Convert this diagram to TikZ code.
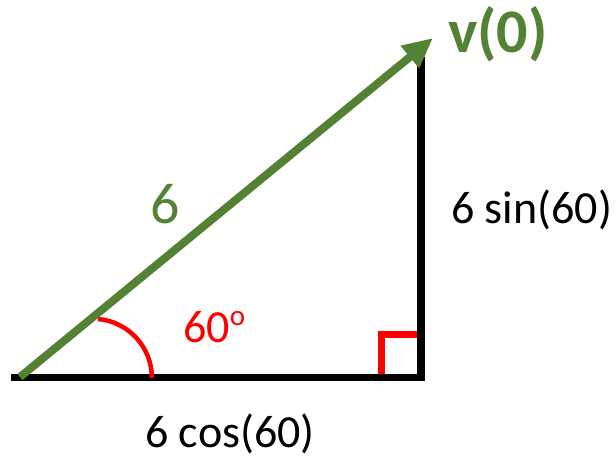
\documentclass[tikz,border=0pt]{standalone}
\usepackage{fontspec}
\setmainfont{Carlito}
\usetikzlibrary{arrows.meta}
\definecolor{vgreen}{RGB}{84,130,53}
\begin{document}
\begin{tikzpicture}[x=1pt,y=-1pt,
  side/.style={line width=7.5pt,black,line join=miter},
  vec/.style={line width=8pt,vgreen,-{Triangle[length=30pt,width=27pt]}},
  rightmark/.style={line width=6.5pt,red},
  anglearc/.style={line width=4.5pt,red},
  lbl/.style={inner sep=0pt,font=\fontsize{46}{55}\selectfont}]
\useasboundingbox (0,0) rectangle (616,460);
\coordinate (L) at (11,377.5);
\coordinate (A) at (20,377);
\coordinate (B) at (421,377.5);
\coordinate (C) at (421,57);
\coordinate (T) at (433,38);
\coordinate (Q1) at (381.5,374);
\coordinate (Q2) at (381.5,334.5);
\coordinate (Q3) at (418,334.5);
\coordinate (R) at (98,319);
% right angle marker
\draw[rightmark,line join=miter] (Q1) -- (Q2) -- (Q3);
% sides
\draw[side] (L) -- (B) -- (C);
% angle arc
\draw[anglearc] (R) arc[start angle=-85,end angle=0,radius=59];
% vector
\draw[vec] (A) -- (T);
% labels
\node[lbl,anchor=base west,text=red] (ang) at (183,342) {60\raisebox{17pt}{\fontsize{29}{29}\selectfont o}};
\node[lbl,anchor=base west] (sin) at (451,223) {6 sin(60)};
\node[lbl,anchor=base west] (cos) at (145,447) {6 cos(60)};
\node[lbl,anchor=base west,text=vgreen,font=\fontsize{58}{60}\selectfont] (mag) at (150,223) {6};
\node[lbl,anchor=base west,text=vgreen,font=\bfseries\fontsize{62}{66}\selectfont] (v0) at (448,53) {v(0)};
\end{tikzpicture}
\end{document}
